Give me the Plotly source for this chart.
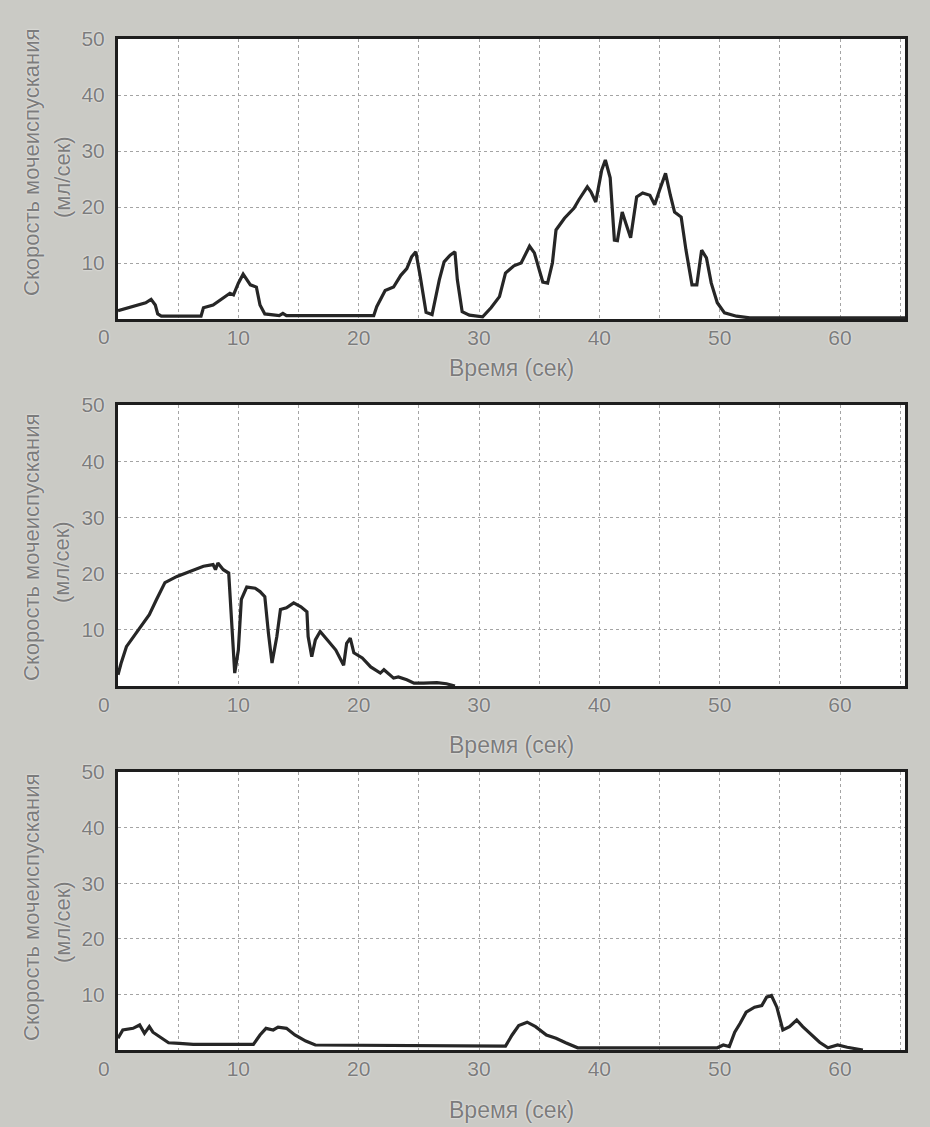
import plotly.graph_objects as go

# ---------------- data ----------------
t1 = [0, 1.25, 2.3, 2.75, 3.1, 3.3, 3.6, 6.9, 7.1, 7.9, 8.75, 9.3, 9.6, 10.0, 10.4, 10.7, 11.0, 11.5, 11.8, 12.2,
      13.4, 13.7, 14.0, 21.25, 21.5, 22.2, 22.9, 23.5, 24.0, 24.4, 24.75, 25.1, 25.6, 26.1, 26.7, 27.1, 27.6, 28.0,
      28.2, 28.6, 29.2, 30.3, 31.0, 31.7, 32.2, 32.9, 33.5, 34.2, 34.6, 35.3, 35.7, 36.1, 36.4, 37.1, 37.9, 38.3,
      39.0, 39.3, 39.7, 40.2, 40.5, 40.9, 41.25, 41.5, 41.9, 42.2, 42.6, 43.1, 43.6, 44.2, 44.6, 45.0, 45.5, 45.9,
      46.25, 46.8, 47.2, 47.7, 48.1, 48.5, 48.9, 49.3, 49.8, 50.4, 51.4, 52.5, 65.4]
v1 = [1.5, 2.2, 2.9, 3.5, 2.5, 0.9, 0.5, 0.5, 2.0, 2.5, 3.7, 4.6, 4.3, 6.4, 8.0, 7.0, 6.1, 5.7, 2.5, 0.9,
      0.6, 1.0, 0.6, 0.6, 2.2, 5.1, 5.7, 7.8, 9.0, 11.1, 12.0, 7.8, 1.2, 0.8, 7.0, 10.2, 11.4, 12.0,
      7.0, 1.3, 0.7, 0.4, 2.0, 4.0, 8.2, 9.5, 10.0, 13.0, 11.8, 6.6, 6.4, 10.0, 15.9, 18.0, 19.8, 21.3,
      23.6, 22.7, 20.9, 26.6, 28.4, 25.2, 14.1, 14.0, 19.1, 17.1, 14.5, 21.8, 22.5, 22.1, 20.4, 23.0, 26.0, 22.1,
      19.1, 18.2, 12.3, 6.1, 6.1, 12.3, 10.9, 6.4, 2.9, 1.1, 0.5, 0.2, 0.2]

t2 = [0, 0.25, 0.7, 1.25, 2.1, 2.6, 3.2, 3.9, 4.9, 6.0, 7.1, 7.9, 8.1, 8.3, 8.75, 9.2, 9.4, 9.7, 10.0, 10.25,
      10.7, 11.4, 11.8, 12.2, 12.5, 12.8, 13.2, 13.5, 14.0, 14.6, 15.2, 15.7, 15.8, 16.1, 16.4, 16.8, 17.4, 18.1,
      18.75, 19.0, 19.3, 19.6, 20.3, 21.0, 21.8, 22.1, 22.9, 23.3, 24.0, 24.6, 25.4, 26.5, 27.3, 28.0]
v2 = [2.0, 4.0, 7.0, 8.7, 11.2, 12.7, 15.4, 18.4, 19.5, 20.4, 21.3, 21.6, 20.7, 21.9, 20.7, 20.1, 12.4, 2.3, 6.4, 15.4,
      17.6, 17.4, 16.8, 15.9, 9.4, 4.1, 8.8, 13.6, 13.9, 14.8, 14.1, 13.2, 8.8, 5.2, 8.2, 9.7, 8.2, 6.4,
      3.7, 7.6, 8.5, 5.9, 5.0, 3.4, 2.3, 2.9, 1.4, 1.6, 1.1, 0.5, 0.5, 0.6, 0.4, 0.0]

t3 = [0, 0.4, 1.25, 1.8, 2.2, 2.6, 2.9, 3.6, 4.2, 5.1, 6.25, 11.25, 11.8, 12.3, 12.9, 13.3, 14.0, 14.7, 15.6, 16.4,
      28.75, 31.7, 32.2, 32.75, 33.3, 34.0, 34.7, 35.6, 36.4, 37.2, 38.2, 49.8, 50.3, 50.8, 51.25, 51.7, 52.2,
      52.9, 53.5, 53.9, 54.3, 54.75, 55.25, 55.8, 56.4, 56.9, 57.6, 58.3, 59.0, 59.8, 60.6, 61.9]
v3 = [2.1, 3.6, 3.9, 4.5, 3.0, 4.2, 3.2, 2.1, 1.3, 1.2, 1.0, 1.0, 2.7, 3.9, 3.6, 4.1, 3.9, 2.7, 1.6, 0.9,
      0.7, 0.6, 0.7, 2.7, 4.4, 5.0, 4.2, 2.7, 2.1, 1.3, 0.4, 0.4, 0.9, 0.6, 3.2, 4.8, 6.8,
      7.7, 8.0, 9.5, 9.8, 7.7, 3.6, 4.2, 5.4, 4.2, 2.7, 1.4, 0.4, 0.9, 0.5, 0.0]

x_ticks = [10, 20, 30, 40, 50, 60]
x_ticktext = ["10", "20", "30", "40", "50", "60"]
y_ticks = [10, 20, 30, 40, 50]
y_ticktext = ["10", "20", "30", "40", "50"]
y_title = "Скорость мочеиспускания"
y_unit = "(мл/сек)"
x_title = "Время (сек)"

# ---------------- layout helpers ----------------
W, H = 930, 1127
BG = "#cacac5"
TXT = "#7c7c7c"
GRID = "#a4a4a4"
FONT = "Liberation Sans"
SHADOW = "0px 0px 2px #ffffff"

# panel pixel geometry: (top, bottom)
panels = [(39, 319), (405, 686), (772, 1050)]
x_left, x_right = 118, 905

def py(p):
    return 1 - p / H

fig = go.Figure()
series = [(t1, v1), (t2, v2), (t3, v3)]
for i, (t, v) in enumerate(series):
    sfx = "" if i == 0 else str(i + 1)
    fig.add_trace(go.Scatter(x=t, y=v, mode="lines",
                             line=dict(color="#262626", width=3.2),
                             xaxis="x" + sfx, yaxis="y" + sfx, showlegend=False,
                             hoverinfo="skip"))

layout = dict(
    width=W, height=H,
    margin=dict(l=0, r=0, t=0, b=0, pad=0),
    paper_bgcolor=BG, plot_bgcolor="white",
    font=dict(family=FONT, color=TXT, size=20),
    showlegend=False,
)

annotations = []
ycenters = [163, 548, 908]
xtitle_y = [368, 745, 1110]
zero_y = [337, 704, 1068]
for i, (top, bot) in enumerate(panels):
    sfx = "" if i == 0 else str(i + 1)
    layout["xaxis" + sfx] = dict(
        domain=[x_left / W, x_right / W], range=[0, 65.4], anchor="y" + sfx,
        tickvals=x_ticks, ticktext=x_ticktext, ticks="", ticklabelstandoff=-2,
        tickfont=dict(family=FONT, size=21, color=TXT, shadow=SHADOW),
        showgrid=True, gridcolor=GRID, griddash="dot", gridwidth=1,
        minor=dict(dtick=5, tick0=0, showgrid=True, gridcolor=GRID, griddash="dot", gridwidth=1),
        showline=True, linecolor="#1e1e1e", linewidth=3, mirror=True, zeroline=False,
        automargin=False, fixedrange=True,
    )
    layout["yaxis" + sfx] = dict(
        domain=[py(bot), py(top)], range=[0, 50], anchor="x" + sfx,
        tickvals=y_ticks, ticktext=y_ticktext, ticks="", ticklabelstandoff=6,
        tickfont=dict(family=FONT, size=21, color=TXT, shadow=SHADOW),
        showgrid=True, gridcolor=GRID, griddash="dot", gridwidth=1,
        showline=True, linecolor="#1e1e1e", linewidth=3, mirror=True, zeroline=False,
        automargin=False, fixedrange=True,
    )
    annotations.append(dict(text=y_title, x=31 / W, y=py(ycenters[i]), xref="paper", yref="paper",
                            showarrow=False, textangle=-90, xanchor="center", yanchor="middle",
                            font=dict(family=FONT, size=22, color=TXT, shadow=SHADOW)))
    annotations.append(dict(text=y_unit, x=62 / W, y=py(ycenters[i] + 14), xref="paper", yref="paper",
                            showarrow=False, textangle=-90, xanchor="center", yanchor="middle",
                            font=dict(family=FONT, size=22, color=TXT, shadow=SHADOW)))
    annotations.append(dict(text=x_title, x=(x_left + x_right) / 2 / W, y=py(xtitle_y[i]),
                            xref="paper", yref="paper", showarrow=False,
                            xanchor="center", yanchor="middle",
                            font=dict(family=FONT, size=23, color=TXT, shadow=SHADOW)))
    annotations.append(dict(text="0", x=104 / W, y=py(zero_y[i]), xref="paper", yref="paper",
                            showarrow=False, xanchor="center", yanchor="middle",
                            font=dict(family=FONT, size=21, color=TXT, shadow=SHADOW)))

layout["annotations"] = annotations
fig.update_layout(**layout)
fig.write_html("out.html", config={"displayModeBar": False, "staticPlot": True},
               post_script="document.body.style.margin='0';document.body.style.overflow='hidden';")
